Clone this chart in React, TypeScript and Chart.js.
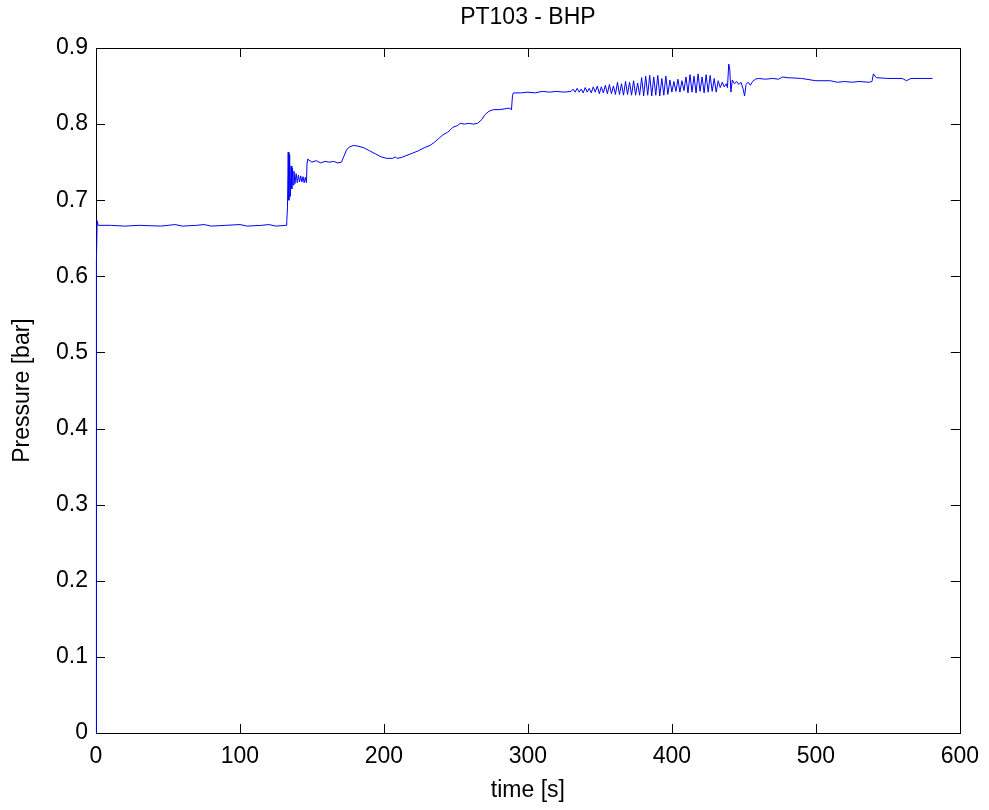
import React, { useEffect, useRef } from "react";
import { Chart, registerables } from "chart.js";

Chart.register(...registerables);

const chartTitle = "PT103 - BHP";
const xAxisTitle = "time [s]";
const yAxisTitle = "Pressure [bar]";
const xTickValues = [0, 100, 200, 300, 400, 500, 600];
const yTickValues = [0, 0.1, 0.2, 0.3, 0.4, 0.5, 0.6, 0.7, 0.8, 0.9];

const timeS = [
  0, 0.3, 0.8, 1.5, 10, 20, 30, 45, 55, 60, 70, 75, 80, 90, 100, 105, 115, 120, 125, 132,
  132.5, 133, 133.5, 134, 134.5, 135, 135.5, 136, 136.5, 137, 137.5, 138.2, 139, 139.8, 140.6, 141.4, 142.2, 143, 143.8, 144.6, 145.4, 146.2, 146.6, 147,
  150, 153, 156, 159, 162, 165, 168, 170.5,
  172, 174, 176, 179, 182, 186, 190, 194, 198, 202, 206, 208, 209, 212, 216, 220, 224, 228, 232, 235, 238, 241, 244, 246, 248, 251, 253, 256, 259, 262, 265, 268, 270, 273, 276, 280, 284, 287, 288.6, 289.3, 290,
  295, 300, 305, 310, 315, 320, 325,
  330, 331.4, 332.8, 334.2, 335.6, 337, 338.4, 339.8, 341.2, 342.6, 344, 345.4, 346.8, 348.2, 349.6, 351, 352.4, 353.8, 355.2, 356.6, 358, 359.4, 360.8, 362.2, 363.6, 365, 366.4, 367.8, 369.2, 370.6, 372, 373.4, 374.8, 376.2, 377.6, 379, 380.4, 381.8, 383.2, 384.6, 386, 387.4, 388.8, 390.2, 391.6, 393, 394.4, 395.8, 397.2, 398.6, 400, 401.4, 402.8, 404.2, 405.6, 407, 408.4, 409.8, 411.2, 412.6, 414, 415.4, 416.8, 418.2, 419.6, 421, 422.4, 423.8, 425.2, 426.6, 428, 429.4, 430.8, 432.2, 433.6, 435, 436.4, 437.8, 438.6, 439.5, 440.2, 441, 442, 443.5, 445, 446.5, 448, 449.5, 450.5, 451.5, 453, 454.5, 456, 458,
  460, 465, 470, 474, 477, 480, 490, 500, 510, 515, 520, 525, 530, 537, 539, 540, 542, 550, 560, 563, 566, 575, 581,
];

const pressureBar = [
  0.0, 0.62, 0.673, 0.667, 0.667, 0.666, 0.667, 0.666, 0.668, 0.666, 0.667, 0.668, 0.666, 0.667, 0.668, 0.666, 0.667, 0.668, 0.666, 0.667,
  0.672, 0.69, 0.763, 0.7, 0.76, 0.705, 0.745, 0.715, 0.742, 0.72, 0.738, 0.722, 0.735, 0.723, 0.733, 0.724, 0.732, 0.724, 0.731, 0.723, 0.73, 0.723, 0.75, 0.754,
  0.75, 0.752, 0.749, 0.751, 0.75, 0.751, 0.749, 0.75,
  0.757, 0.766, 0.77, 0.772, 0.771, 0.769, 0.765, 0.761, 0.757, 0.755, 0.755, 0.757, 0.755, 0.756, 0.759, 0.762, 0.765, 0.769, 0.772, 0.776, 0.781, 0.786, 0.789, 0.792, 0.796, 0.798, 0.801, 0.8, 0.801, 0.8, 0.801, 0.806, 0.812, 0.817, 0.819, 0.819, 0.82, 0.821, 0.819, 0.838, 0.841,
  0.841, 0.842, 0.841, 0.843, 0.842, 0.843, 0.842,
  0.843, 0.846, 0.842, 0.847, 0.842, 0.846, 0.841, 0.848, 0.842, 0.847, 0.841, 0.849, 0.842, 0.85, 0.84, 0.849, 0.841, 0.851, 0.84, 0.852, 0.84, 0.85, 0.839, 0.855, 0.839, 0.853, 0.838, 0.856, 0.839, 0.855, 0.838, 0.857, 0.838, 0.854, 0.838, 0.861, 0.837, 0.863, 0.838, 0.864, 0.837, 0.862, 0.838, 0.864, 0.837, 0.86, 0.838, 0.863, 0.839, 0.858, 0.842, 0.856, 0.843, 0.859, 0.842, 0.857, 0.844, 0.862, 0.841, 0.865, 0.842, 0.863, 0.841, 0.866, 0.843, 0.862, 0.841, 0.865, 0.842, 0.864, 0.843, 0.86, 0.842, 0.857, 0.848, 0.855, 0.849, 0.853, 0.848, 0.879, 0.872, 0.842, 0.858, 0.853, 0.856, 0.852, 0.855, 0.846, 0.837, 0.852, 0.855, 0.851, 0.856, 0.859,
  0.86, 0.859, 0.86, 0.859, 0.862, 0.861, 0.86, 0.857, 0.857, 0.855, 0.856, 0.855, 0.856, 0.855, 0.856, 0.866, 0.861, 0.86, 0.86, 0.857, 0.86, 0.86, 0.86,
];

const FONT = '"Liberation Sans", Arial, sans-serif';

const boxTicksPlugin = {
  id: "boxTicks",
  beforeDatasetsDraw(chart: any) {
    const { ctx, chartArea, scales } = chart;
    const { left, right, top, bottom } = chartArea;
    const len = 9;
    ctx.save();
    ctx.strokeStyle = "#000000";
    ctx.lineWidth = 1;
    ctx.beginPath();
    for (const v of xTickValues) {
      const px = Math.round(scales.x.getPixelForValue(v)) + 0.5;
      ctx.moveTo(px, bottom);
      ctx.lineTo(px, bottom - len);
      ctx.moveTo(px, top);
      ctx.lineTo(px, top + len);
    }
    for (const v of yTickValues) {
      const py = Math.round(scales.y.getPixelForValue(v)) + 0.5;
      ctx.moveTo(left, py);
      ctx.lineTo(left + len, py);
      ctx.moveTo(right, py);
      ctx.lineTo(right - len, py);
    }
    ctx.stroke();
    ctx.strokeRect(Math.round(left) + 0.5, Math.round(top) + 0.5, Math.round(right - left), Math.round(bottom - top));
    ctx.restore();
  },
};

export default function App() {
  const canvasRef = useRef<HTMLCanvasElement | null>(null);

  useEffect(() => {
    document.body.style.margin = "0";
    const canvas = canvasRef.current;
    if (!canvas) return;
    const points = timeS.map((t, i) => ({ x: t, y: pressureBar[i] }));
    const chart = new Chart(canvas, {
      type: "line",
      data: {
        datasets: [
          {
            data: points,
            borderColor: "#0000ff",
            borderWidth: 1,
            pointRadius: 0,
            tension: 0,
            fill: false,
            clip: 2,
          },
        ],
      },
      options: {
        responsive: false,
        animation: false,
        parsing: true,
        layout: { padding: { left: 0, right: 25, top: 0, bottom: 0 } },
        plugins: {
          legend: { display: false },
          tooltip: { enabled: false },
          title: {
            display: true,
            text: chartTitle,
            fullSize: false,
            color: "#000000",
            font: { family: FONT, size: 23, weight: "normal" },
            padding: { top: 4, bottom: 16.4 },
          },
        },
        scales: {
          x: {
            type: "linear",
            min: 0,
            max: 600,
            afterBuildTicks: (scale: any) => {
              scale.ticks = xTickValues.map((v) => ({ value: v }));
            },
            afterFit: (scale: any) => {
              scale.height = 77;
            },
            grid: { display: false, drawTicks: false },
            border: { display: false },
            ticks: {
              color: "#000000",
              font: { family: FONT, size: 23 },
              padding: 10,
              maxRotation: 0,
              callback: (v: any) => String(v),
            },
            title: {
              display: true,
              text: xAxisTitle,
              color: "#000000",
              font: { family: FONT, size: 23 },
              padding: { top: 0, bottom: 6 },
            },
          },
          y: {
            type: "linear",
            min: 0,
            max: 0.9,
            afterBuildTicks: (scale: any) => {
              scale.ticks = yTickValues.map((v) => ({ value: v }));
            },
            afterFit: (scale: any) => {
              scale.width = 96;
            },
            grid: { display: false, drawTicks: false },
            border: { display: false },
            ticks: {
              color: "#000000",
              font: { family: FONT, size: 23 },
              padding: 8,
              callback: (v: any) => (Number(v) === 0 ? "0" : Number(v).toFixed(1)),
            },
            title: {
              display: true,
              text: yAxisTitle,
              color: "#000000",
              font: { family: FONT, size: 23 },
              padding: { top: 9, bottom: 0 },
            },
          },
        },
      },
      plugins: [boxTicksPlugin],
    } as any);
    return () => chart.destroy();
  }, []);

  return (
    <div style={{ width: 989, height: 810, background: "#ffffff" }}>
      <canvas ref={canvasRef} width={989} height={810} style={{ display: "block" }} />
    </div>
  );
}
